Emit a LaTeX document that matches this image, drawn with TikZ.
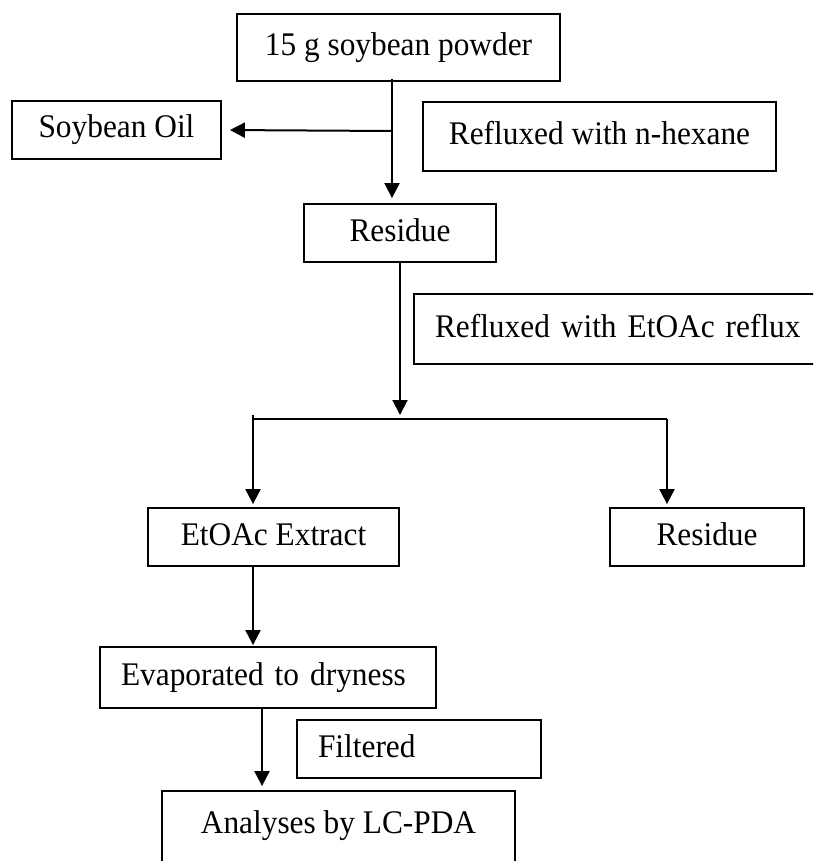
\documentclass[tikz,border=0pt]{standalone}
\usepackage{fontspec}
\setmainfont{Liberation Serif}[FakeStretch=0.95]
\usetikzlibrary{arrows.meta}
\begin{document}
\begin{tikzpicture}[x=1pt,y=-1pt,
  every node/.style={font=\fontsize{33}{38}\selectfont},
  box/.style={draw, line width=1.8pt, inner sep=0pt, text height=22pt, text depth=6pt},
  leftbox/.style={box, align=left, inner xsep=21pt},
  flow/.style={line width=2pt},
  arrowto/.style={flow, -{Triangle[length=15pt,width=15pt]}}]
\useasboundingbox (0,0) rectangle (813,861);
\clip (0,0) rectangle (813,861);

% process boxes
\node[box, minimum width=323pt, minimum height=67pt] (powder) at (398.5,47.5) {15 g soybean powder};
\node[box, minimum width=209pt, minimum height=58pt] (oil) at (116.5,130) {Soybean Oil};
\node[box, minimum width=353pt, minimum height=69pt] (hexane) at (599.5,136.5) {Refluxed with n-hexane};
\node[box, minimum width=192pt, minimum height=58pt] (res1) at (400,233) {Residue};
\node[leftbox, text width=374pt, minimum height=70pt] (reflux) at (622,329) {Refluxed with EtOAc reflux};
\node[box, minimum width=251pt, minimum height=58pt] (extract) at (273.5,537) {EtOAc Extract};
\node[box, minimum width=194pt, minimum height=58pt] (res2) at (707,537) {Residue};
\node[leftbox, text width=294pt, minimum height=61pt] (evap) at (268,677.5) {Evaporated to dryness};
\node[leftbox, text width=202pt, minimum height=58pt] (filtered) at (419,749) {Filtered};
\node[box, minimum width=353pt, text height=42pt, text depth=40pt] (lcpda) at (338.5,832) {Analyses by LC-PDA};

% junctions
\coordinate (j1) at (392,131);
\coordinate (barL) at (253,419);
\coordinate (barR) at (667,419);
\coordinate (j2) at (262,760);

% connectors
\draw[flow] ([yshift=3pt]j1 |- powder.south) -- (j1);
\draw[arrowto, shorten >=8pt] (j1) -- (oil.east);
\draw[arrowto, shorten >=5pt] (j1) -- (j1 |- res1.north);
\draw[arrowto, shorten >=4pt] (res1.south) -- (res1.south |- barL);
\draw[flow] (barL) -- (barR);
\draw[arrowto, shorten >=3pt] ([yshift=4pt]barL) -- (barL |- extract.north);
\draw[arrowto, shorten >=3pt] (barR) -- (barR |- res2.north);
\draw[arrowto, shorten >=1pt] (barL |- extract.south) -- (barL |- evap.north);
\draw[arrowto, shorten >=4pt] ([yshift=2pt]j2 |- evap.south) -- (j2 |- lcpda.north);
\end{tikzpicture}
\end{document}
